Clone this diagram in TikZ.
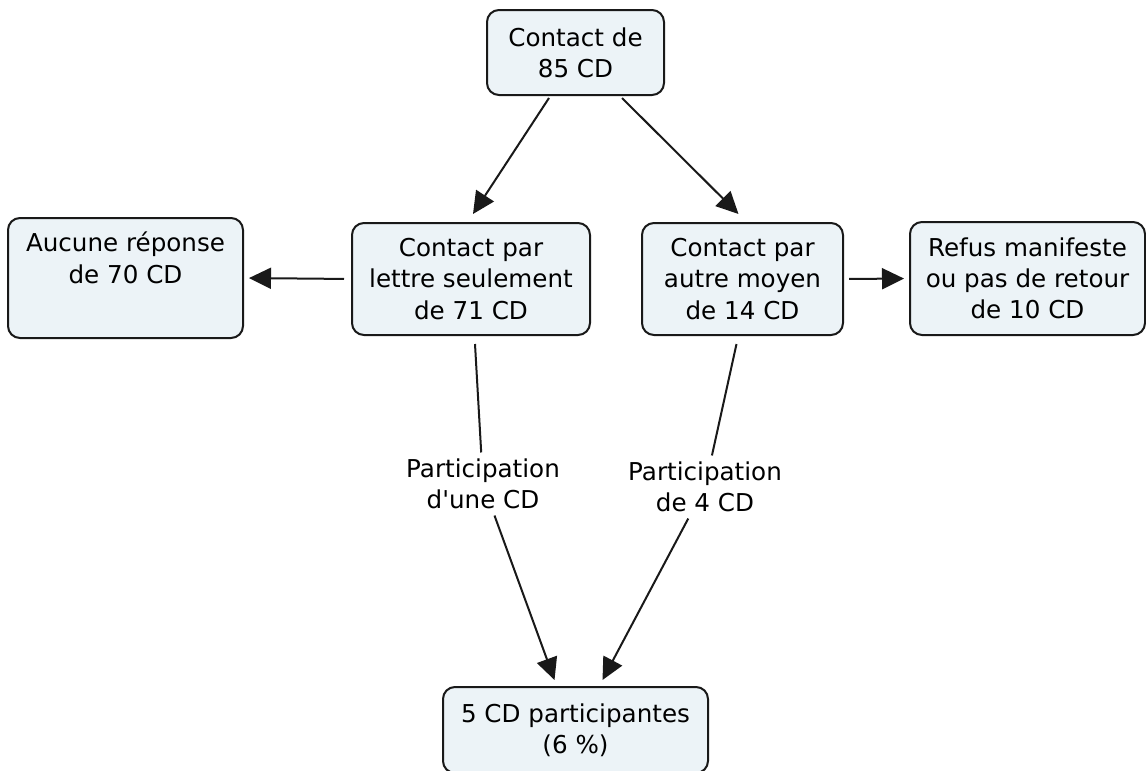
\documentclass[tikz,border=0pt]{standalone}
\usepackage{fontspec}
\setmainfont{DejaVu Sans}
\usetikzlibrary{positioning,arrows.meta}
\definecolor{myfill}{RGB}{236,243,247}
\definecolor{myline}{RGB}{25,25,25}
\tikzstyle{mybox}=[draw=myline, fill=myfill, line width=1pt, rounded corners=6pt, align=center, inner sep=2pt]
\tikzstyle{mylabel}=[align=center, inner sep=3pt]
\tikzstyle{connect arrow}=[-{Triangle[length=11pt,width=10.5pt]}, line width=1pt, myline]

\begin{document}
\begin{tikzpicture}[
    x=0.5pt, y=-0.5pt,
    font=\fontsize{12.3}{15.6}\selectfont]
\useasboundingbox (0,0) rectangle (1146,771);

\node[mybox, minimum width=88.5pt, minimum height=42.5pt] (contact) at (575.5,52.5) {Contact de\\85 CD};

\node[mybox, minimum width=119pt, minimum height=56pt] (lettre) at (471,279) {Contact par\\lettre seulement\\de 71 CD};
\node[mybox, minimum width=100.5pt, minimum height=56pt] (autre) at (742.5,279) {Contact par\\autre moyen\\de 14 CD};

\node[mybox, minimum width=117.5pt, minimum height=60pt] (aucune) at (125.5,278) {Aucune réponse\\de 70 CD\\\strut};
\node[mybox, minimum width=117.5pt, minimum height=56.5pt] (refus) at (1027.5,278.5) {Refus manifeste\\ou pas de retour\\de 10 CD};

\node[mylabel] (partA) at (483,484) {Participation\\d\textquotesingle une CD};
\node[mylabel] (partB) at (705,487) {Participation\\de 4 CD};

\node[mybox, minimum width=132.5pt, minimum height=43pt] (final) at (575.5,730) {5 CD participantes\\(6 \%)};

\begin{scope}[connect arrow]
    \draw ([xshift=-13.25pt,yshift=-1pt]contact.south) -- ([xshift=1pt,yshift=4pt]lettre.north);
    \draw ([xshift=23.25pt,yshift=-1pt]contact.south) -- ([xshift=-2pt,yshift=4pt]autre.north);

    \draw[shorten <=3.5pt, shorten >=2.5pt] (lettre.west) -- (aucune.east);
    \draw[shorten <=2.5pt, shorten >=2.5pt] (autre.east) -- (refus.west);

    \draw ([xshift=2pt,yshift=-4pt]lettre.south) -- (partA) -- ([xshift=-10.5pt,yshift=3pt]final.north);
    \draw ([xshift=-3pt,yshift=-4pt]autre.south) -- (partB) -- ([xshift=13.5pt,yshift=3pt]final.north);
\end{scope}

\end{tikzpicture}
\end{document}
